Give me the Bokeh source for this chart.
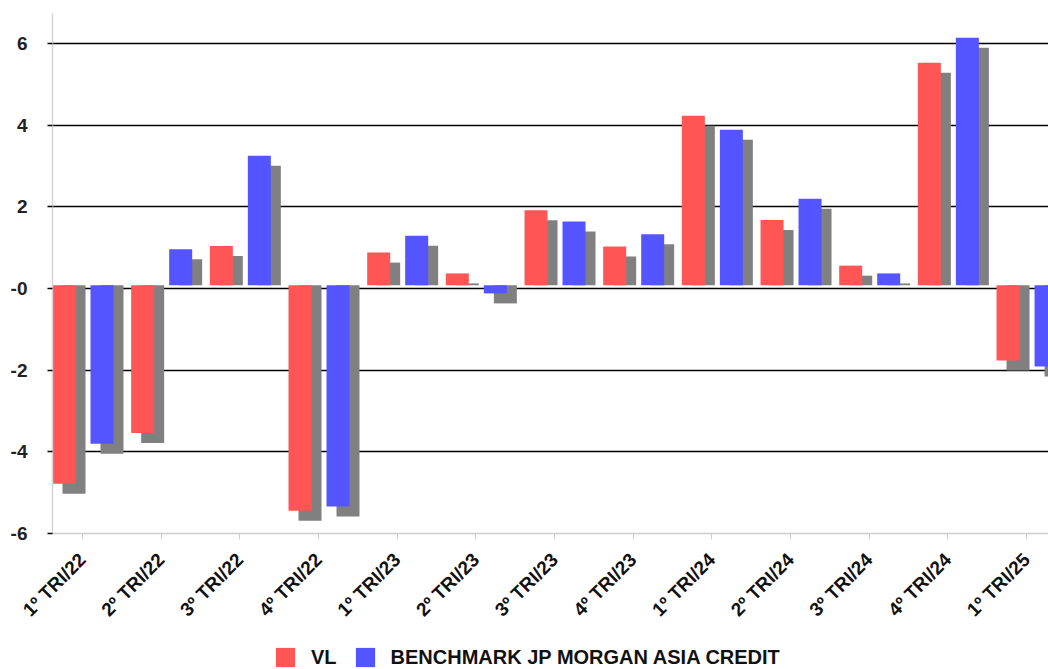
import math
from bokeh.plotting import figure
from bokeh.layouts import column
from bokeh.models import FixedTicker, Legend, LegendItem, ColumnDataSource
from bokeh.embed import file_html
from bokeh.resources import INLINE

# ---------------- data ----------------
categories = ["1º TRI/22", "2º TRI/22", "3º TRI/22", "4º TRI/22",
              "1º TRI/23", "2º TRI/23", "3º TRI/23", "4º TRI/23",
              "1º TRI/24", "2º TRI/24", "3º TRI/24", "4º TRI/24",
              "1º TRI/25"]
vl = [-4.86, -3.62, 0.96, -5.52, 0.80, 0.29, 1.84, 0.95, 4.15, 1.60, 0.48, 5.45, -1.84]
benchmark = [-3.88, 0.88, 3.17, -5.42, 1.21, -0.20, 1.56, 1.25, 3.81, 2.12, 0.29, 6.06, -1.99]
y_tick_values = [-6.08, -4.08, -2.08, -0.08, 1.92, 3.92, 5.92]
y_tick_labels = ["-6", "-4", "-2", "-0", "2", "4", "6"]
series_names = ["VL", "BENCHMARK JP MORGAN ASIA CREDIT"]

# ---------------- style ----------------
RED = "#ff5555"
BLUE = "#5555ff"
SHADOW = "#808080"
FONT = "Liberation Sans"

PX_PER_CAT = 78.67
PX_PER_UNIT = 40.83
FRAME_W = 996
FRAME_H = 520

bar_w = 23 / PX_PER_CAT
blue_off = 38 / PX_PER_CAT
sh_dx = 10 / PX_PER_CAT
sh_dy = 10 / PX_PER_UNIT
tick_off = 30 / PX_PER_CAT

y0 = y_tick_values[0]
p = figure(width=1048, height=645, output_backend="svg", toolbar_location=None,
           x_range=(0, FRAME_W / PX_PER_CAT), y_range=(y0, y0 + FRAME_H / PX_PER_UNIT),
           min_border_left=52, min_border_right=0, min_border_top=13, min_border_bottom=112)
p.outline_line_color = None
p.background_fill_color = "white"
p.border_fill_color = "white"


def shadow_coords(vals, offset):
    xs, tops, bots = [], [], []
    for i, v in enumerate(vals):
        if v > 0:
            t, b = v - sh_dy, 0.0
            if t <= 0:
                continue
        else:
            t, b = 0.0, v - sh_dy
        xs.append(i + offset + bar_w / 2 + sh_dx)
        tops.append(t)
        bots.append(b)
    return dict(x=xs, top=tops, bottom=bots)


idx = list(range(len(categories)))
for vals, off in ((vl, 0.0), (benchmark, blue_off)):
    src = ColumnDataSource(shadow_coords(vals, off))
    p.vbar(x="x", top="top", bottom="bottom", width=bar_w, source=src,
           fill_color=SHADOW, line_color=None)

p.vbar(x=[i + bar_w / 2 for i in idx], top=vl, bottom=0, width=bar_w,
       fill_color=RED, line_color=None)
p.vbar(x=[i + blue_off + bar_w / 2 for i in idx], top=benchmark, bottom=0, width=bar_w,
       fill_color=BLUE, line_color=None)

# x axis
x_ticks = [round(i + tick_off, 4) for i in idx]
xa = p.xaxis[0]
xa.ticker = FixedTicker(ticks=x_ticks)
xa.major_label_overrides = {t: c for t, c in zip(x_ticks, categories)}
xa.major_label_orientation = math.pi / 4
xa.axis_line_color = "#cccccc"
xa.axis_line_width = 1.5
xa.major_tick_line_color = "#cccccc"
xa.major_tick_out = 6
xa.major_tick_in = 0
xa.minor_tick_line_color = None
xa.major_label_standoff = 17
xa.major_label_text_font = FONT
xa.major_label_text_font_style = "bold"
xa.major_label_text_font_size = "19px"
xa.major_label_text_color = "#111111"

# y axis
ya = p.yaxis[0]
ya.ticker = FixedTicker(ticks=y_tick_values)
ya.major_label_overrides = {t: l for t, l in zip(y_tick_values, y_tick_labels)}
ya.axis_line_color = "#d5d5d5"
ya.axis_line_width = 1.5
ya.major_tick_line_color = "#000000"
ya.major_tick_line_width = 1.5
ya.major_tick_out = 5
ya.major_tick_in = 0
ya.minor_tick_line_color = None
ya.major_label_standoff = 20
ya.major_label_text_font = FONT
ya.major_label_text_font_style = "bold"
ya.major_label_text_font_size = "19px"
ya.major_label_text_color = "#222222"

p.xgrid.grid_line_color = None
p.ygrid.ticker = FixedTicker(ticks=y_tick_values[1:])
p.ygrid.grid_line_color = "#000000"
p.ygrid.grid_line_width = 1.5

# legend strip below the chart (placeholder bars sit outside the visible range)
lf = figure(width=1048, height=24, output_backend="svg", toolbar_location=None,
            x_axis_type=None, y_axis_type=None, x_range=(0, 1), y_range=(0, 1),
            min_border_left=0, min_border_right=0, min_border_top=0, min_border_bottom=0)
lf.outline_line_color = None
lf.grid.grid_line_color = None
lf.background_fill_color = "white"
lf.border_fill_color = "white"
l_vl = lf.vbar(x=[5], top=[5], bottom=4, width=0.1, fill_color=RED, line_color=None)
l_bm = lf.vbar(x=[5], top=[5], bottom=4, width=0.1, fill_color=BLUE, line_color=None)

legend = Legend(items=[LegendItem(label=series_names[0], renderers=[l_vl]),
                       LegendItem(label=series_names[1], renderers=[l_bm])],
                orientation="horizontal", location=(221, 0),
                glyph_width=24, glyph_height=24, label_height=24,
                label_standoff=14, spacing=16, padding=0, margin=0,
                border_line_color=None, background_fill_alpha=0,
                label_text_font=FONT, label_text_font_style="bold",
                label_text_font_size="20px", label_text_color="#111111")
lf.add_layout(legend)

layout = column(p, lf, spacing=0)
open("out.html", "w").write(file_html(layout, INLINE))
